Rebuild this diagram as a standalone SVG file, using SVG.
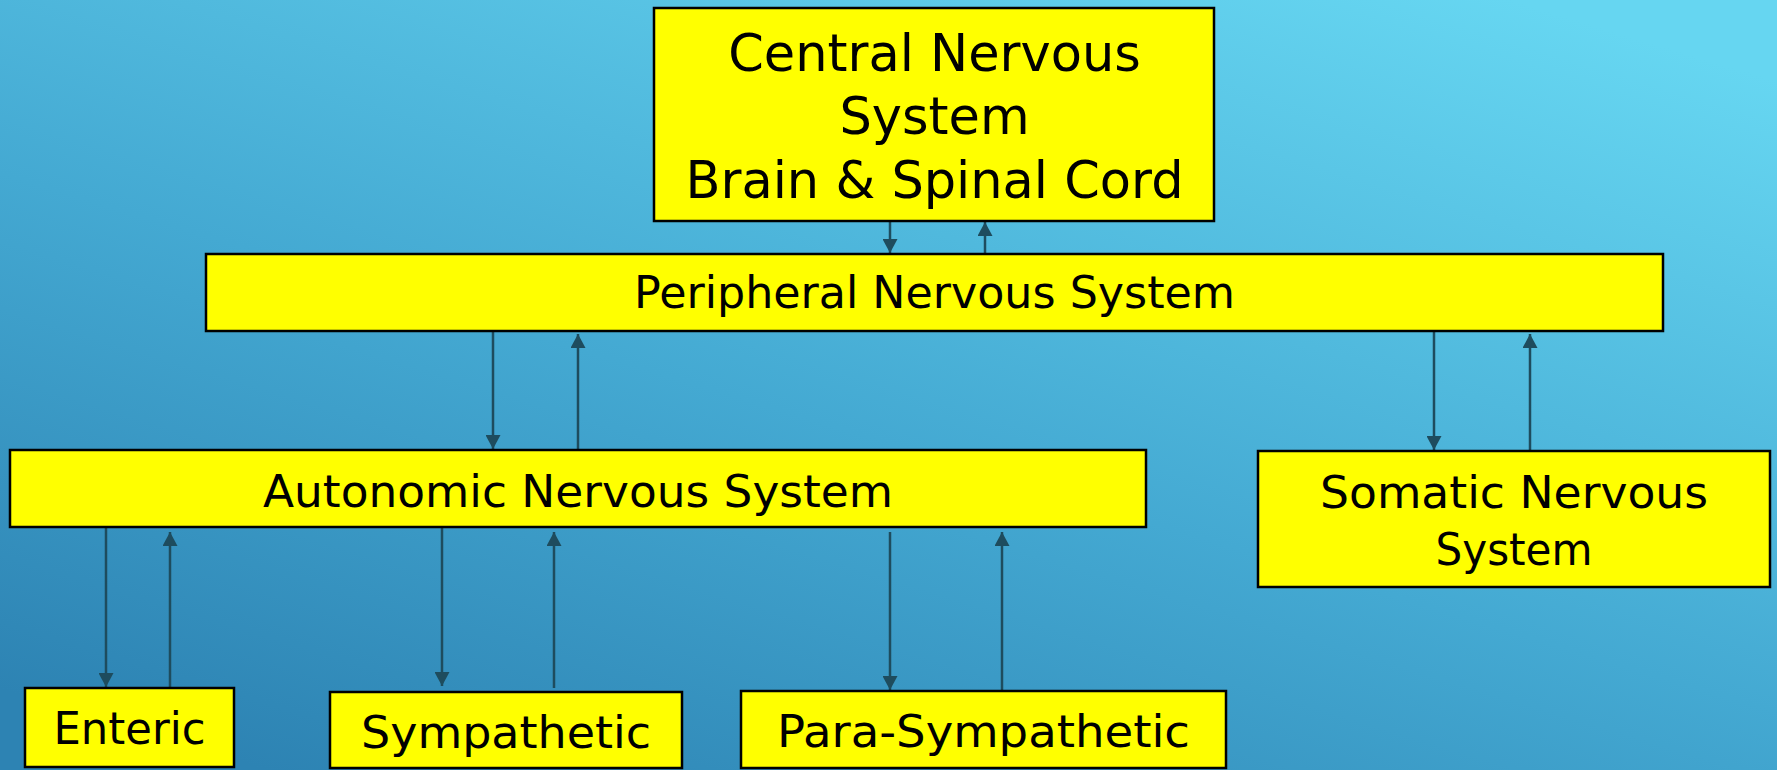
<svg xmlns="http://www.w3.org/2000/svg" width="1777" height="770" viewBox="0 0 1777 770">
<defs>
<linearGradient id="bg" x1="0.85" y1="0" x2="0.15" y2="1">
<stop offset="0" stop-color="#66d6f1"/>
<stop offset="0.55" stop-color="#44a9d2"/>
<stop offset="1" stop-color="#2d83b3"/>
</linearGradient>
<marker id="ah" viewBox="0 0 14 15" refX="14" refY="7.5" markerWidth="14" markerHeight="15" markerUnits="userSpaceOnUse" orient="auto">
<path d="M0,0 L14,7.5 L0,15 z" fill="#1e4c5e"/>
</marker>
<style>
.box{fill:#ffff00;stroke:#000;stroke-width:2.5}
.t{font-family:"DejaVu Sans","Liberation Sans",sans-serif;font-size:44px;fill:#000;text-anchor:middle}
.big{font-size:51px}
.c{stroke:#1e4c5e;stroke-width:2.5;fill:none;marker-end:url(#ah)}
</style>
</defs>
<rect x="0" y="0" width="1777" height="770" fill="url(#bg)"/>
<g id="connectors">
<line class="c" x1="890" y1="221" x2="890" y2="253"/>
<line class="c" x1="985" y1="253" x2="985" y2="222"/>
<line class="c" x1="493" y1="331" x2="493" y2="449"/>
<line class="c" x1="578" y1="451" x2="578" y2="334"/>
<line class="c" x1="1434" y1="331" x2="1434" y2="450"/>
<line class="c" x1="1530" y1="451" x2="1530" y2="334"/>
<line class="c" x1="106" y1="527" x2="106" y2="687"/>
<line class="c" x1="170" y1="694" x2="170" y2="532"/>
<line class="c" x1="442" y1="527" x2="442" y2="686"/>
<line class="c" x1="554" y1="688" x2="554" y2="532"/>
<line class="c" x1="890" y1="532" x2="890" y2="690"/>
<line class="c" x1="1002" y1="692" x2="1002" y2="532"/>
</g>
<g id="cns">
<rect class="box" x="654" y="8" width="560" height="213"/>
<text class="t big" x="934.5" y="71">Central Nervous</text>
<text class="t big" x="934.5" y="134">System</text>
<text class="t big" x="934.5" y="198">Brain &amp; Spinal Cord</text>
</g>
<g id="pns">
<rect class="box" x="206" y="254" width="1457" height="77"/>
<text class="t" x="934.5" y="308" textLength="601" lengthAdjust="spacingAndGlyphs">Peripheral Nervous System</text>
</g>
<g id="ans">
<rect class="box" x="10" y="450" width="1136" height="77"/>
<text class="t" x="578" y="507" textLength="630" lengthAdjust="spacingAndGlyphs">Autonomic Nervous System</text>
</g>
<g id="somatic">
<rect class="box" x="1258" y="451" width="512" height="136"/>
<text class="t" x="1514" y="508" textLength="388" lengthAdjust="spacingAndGlyphs">Somatic Nervous</text>
<text class="t" x="1514" y="565" textLength="157" lengthAdjust="spacingAndGlyphs">System</text>
</g>
<g id="enteric">
<rect class="box" x="25" y="688" width="209" height="79"/>
<text class="t" x="129.5" y="744" textLength="152" lengthAdjust="spacingAndGlyphs">Enteric</text>
</g>
<g id="sympathetic">
<rect class="box" x="330" y="692" width="352" height="76"/>
<text class="t" x="506" y="748" textLength="290" lengthAdjust="spacingAndGlyphs">Sympathetic</text>
</g>
<g id="parasympathetic">
<rect class="box" x="741" y="691" width="485" height="77"/>
<text class="t" x="983.5" y="747" textLength="413" lengthAdjust="spacingAndGlyphs">Para-Sympathetic</text>
</g>
</svg>
